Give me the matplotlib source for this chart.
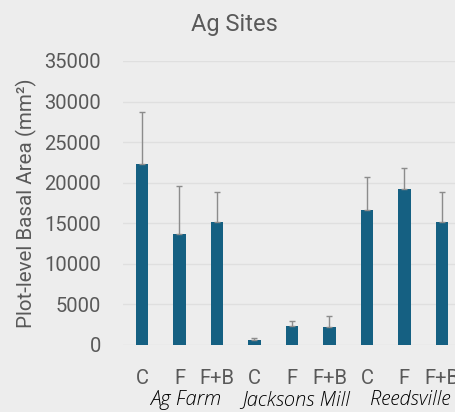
import matplotlib
matplotlib.use("Agg")
import matplotlib.pyplot as plt
import numpy as np

sites = ["Ag Farm", "Jacksons Mill", "Reedsville"]
treatments = ["C", "F", "F+B"]
means = [22300, 13700, 15100, 600, 2300, 2250, 16600, 19200, 15200]
err_upper = [6400, 5900, 3800, 250, 700, 1350, 4100, 2600, 3600]
yticks = [0, 5000, 10000, 15000, 20000, 25000, 30000, 35000]

bg = "#EDEDED"
bar_color = "#156082"
text_gray = "#595959"

fig = plt.figure(figsize=(4.55, 4.12), dpi=100, facecolor=bg)
W, H = 455, 412
left = 123.25 / W
bottom = (H - 345) / H
height = (345 - 61) / H
ax = fig.add_axes([left, bottom, 1 - left, height])
ax.set_facecolor(bg)

labels = [t for s in sites for t in treatments]
x = np.arange(len(labels))
ax.bar(x, means, width=0.33, color=bar_color, zorder=3)
ax.errorbar(x, means, yerr=[np.zeros(len(means)), err_upper], fmt="none",
            ecolor="#8C8C8C", elinewidth=1.0, capsize=2.5, capthick=1.0, zorder=4)

ax.set_xlim(-0.5, 8.35)
ax.set_ylim(0, 35000)
ax.set_yticks(yticks)
ax.set_yticklabels([str(v) for v in yticks], fontsize=14.5, color=text_gray,
                   fontfamily="Roboto")
ax.set_xticks(x)
ax.set_xticklabels(labels, fontsize=14.5, color=text_gray, fontfamily="Roboto")
ax.tick_params(axis="both", length=0)
ax.tick_params(axis="x", pad=17)
ax.tick_params(axis="y", pad=16)
ax.grid(axis="y", color="#DFDFDF", linewidth=1.0, zorder=0)
for sp in ax.spines.values():
    sp.set_visible(False)

ax.set_ylabel("Plot-level Basal Area (mm²)", fontsize=14.8, color=text_gray,
              fontfamily="Roboto", labelpad=5)

fig.text(234 / W, 1 - 24 / H, "Ag Sites", ha="center", va="center",
         fontsize=17, color=text_gray, fontfamily="Roboto")

group_pos = [(1.17, "center"), (4.12, "center"), (6.08, "left")]
for s, (gx, ha) in zip(sites, group_pos):
    ax.text(gx, -0.195, s, transform=ax.get_xaxis_transform(),
            ha=ha, va="center", fontsize=14.5, style="italic", fontweight="light",
            fontfamily="Open Sans", color="#000000")

fig.savefig("out.png", dpi=100, facecolor=bg)
